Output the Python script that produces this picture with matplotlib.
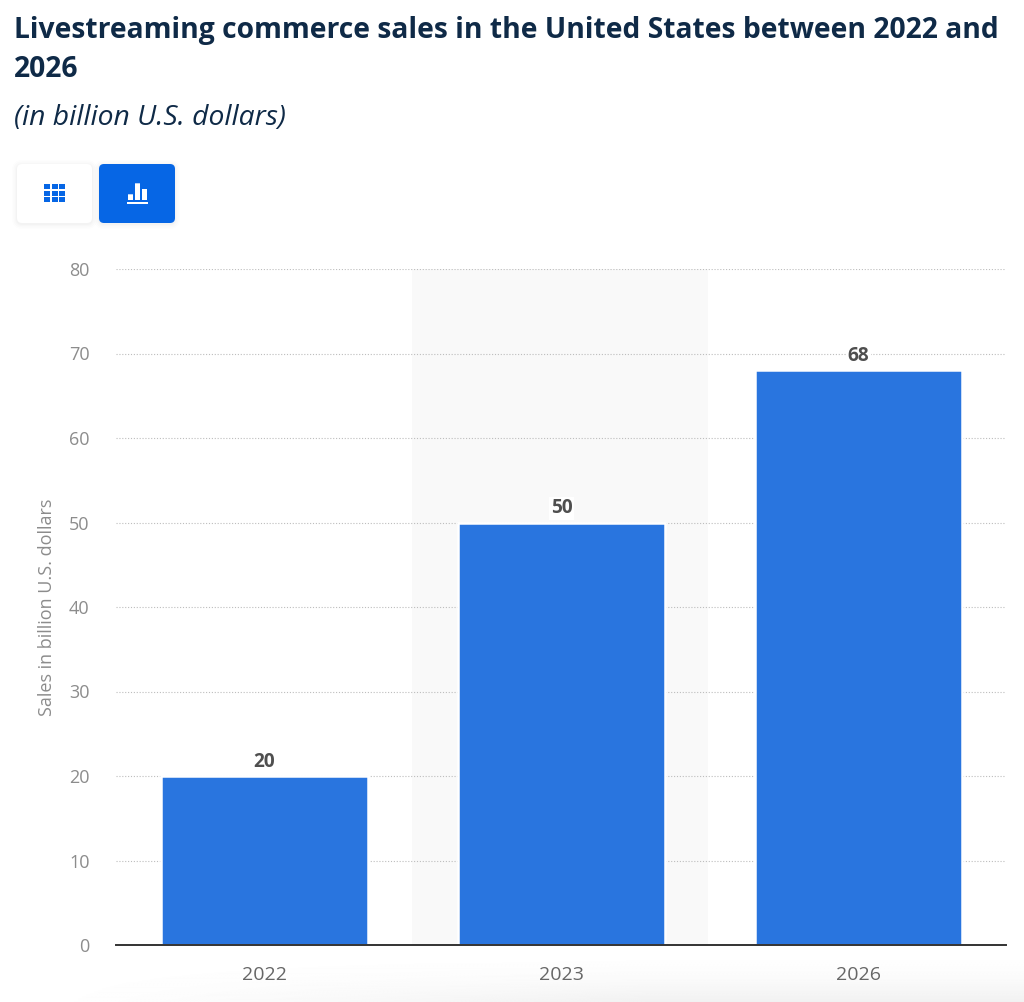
import numpy as np
from matplotlib import pyplot as plt
from matplotlib.patches import FancyBboxPatch, Rectangle

years = ['2022', '2023', '2026']
sales = [20, 50, 68]
yticks = [0, 10, 20, 30, 40, 50, 60, 70, 80]

W, H = 1024, 1002
plt.rcParams['font.family'] = ['Open Sans', 'DejaVu Sans']

fig = plt.figure(figsize=(W / 100, H / 100), dpi=100, facecolor='white')

# overlay in pixel coords for the title and the buttons
bg = fig.add_axes([0, 0, 1, 1], zorder=0)
bg.axis('off')

# soft shadow along the bottom edge, fades out to the left
ty = np.linspace(0, 1, 60).reshape(-1, 1)
tx = np.clip(np.linspace(-0.05, 1.6, 256), 0, 1).reshape(1, -1)
shade = 1 - 0.055 * ty ** 2 * tx
bg.imshow(shade, extent=(0, W, H, 945), cmap='gray', vmin=0, vmax=1, aspect='auto', zorder=0)
bg.set_xlim(0, W)
bg.set_ylim(H, 0)

title_kw = dict(fontsize=20.35, color='#0f2a47', va='center', ha='left')
bg.text(14, 30, 'Livestreaming commerce sales in the United States between 2022 and',
        fontweight='bold', **title_kw)
bg.text(14, 69, '2026', fontweight='bold', **title_kw)
bg.text(14, 118, '(in billion U.S. dollars)', fontstyle='italic', **title_kw)

# table / chart toggle buttons
for x0, x1, fc in [(17, 92, 'white'), (99, 175, '#0666e5')]:
    for grow, alpha in [(5, 0.008), (3.5, 0.01), (2, 0.012), (1, 0.016)]:
        bg.add_patch(FancyBboxPatch((x0 - grow, 164 - grow + 1), x1 - x0 + 2 * grow, 59 + 2 * grow,
                                    boxstyle='round,pad=0,rounding_size=%g' % (5 + grow),
                                    fc='black', alpha=alpha, lw=0))
    bg.add_patch(FancyBboxPatch((x0, 164), x1 - x0, 59, boxstyle='round,pad=0,rounding_size=5',
                                fc=fc, lw=0))
for col in range(3):
    for row in range(3):
        bg.add_patch(Rectangle((44 + col * 7.6, 184 + row * 6.5), 6.2, 5, fc='#0666e5', lw=0))
for x0, top in [(128, 194.3), (135, 183.3), (142, 189)]:
    bg.add_patch(Rectangle((x0, top), 5, 200 - top, fc='white', lw=0, snap=False))
bg.add_patch(Rectangle((127.3, 201.8), 20.4, 2, fc='white', lw=0))

# plot
ax = fig.add_axes([116 / W, (H - 945) / H, 889.5 / W, 676 / H], zorder=1)
ax.patch.set_alpha(0)
x = np.arange(len(years))
ax.axvspan(0.497, 1.494, color='#f9f9f9', zorder=0, lw=0)
ax.bar(x, sales, width=0.695, color='#2975df', edgecolor='white', linewidth=1.8, zorder=3)
for xi, v in zip(x, sales):
    ax.annotate(str(v), (xi, v), xytext=(0, 10.2), textcoords='offset points', ha='center', va='center',
                fontsize=13.7, fontweight='bold', color='#4f4f4f', zorder=4,
                bbox=dict(fc='white', ec='none', pad=1))

ax.set_xlim(-0.5, 2.495)
ax.set_ylim(0, 80)
ax.set_xticks(x, years)
ax.set_yticks(yticks)
ax.yaxis.grid(True, color='#bdbdbd', linestyle=(0, (1, 1.6)), linewidth=0.8, zorder=1)
ax.set_axisbelow(True)
for s in ['top', 'right', 'left']:
    ax.spines[s].set_visible(False)
ax.spines['bottom'].set_color('#333333')
ax.spines['bottom'].set_linewidth(1.4)
ax.spines['bottom'].set_zorder(5)
ax.tick_params(axis='x', length=0, pad=15, labelsize=14, labelcolor='#666666')
ax.tick_params(axis='y', length=0, pad=19, labelsize=13, labelcolor='#8c8c8c')
ax.set_ylabel('Sales in billion U.S. dollars', fontsize=13, color='#8c8c8c')
ax.yaxis.set_label_coords((56.5 - 116) / 889.5, (945 - 607) / 676)

fig.savefig('out.png', dpi=100)
